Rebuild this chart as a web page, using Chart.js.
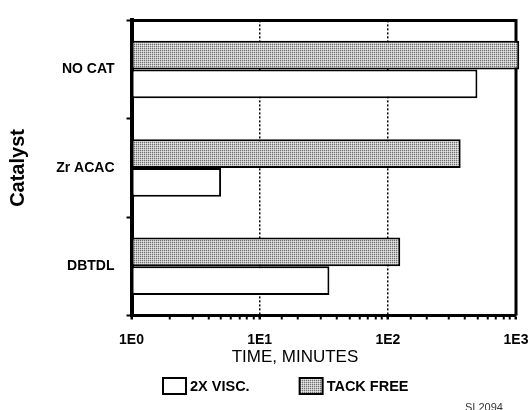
<!DOCTYPE html>
<html>
<head>
<meta charset="utf-8">
<script src="https://cdn.jsdelivr.net/npm/chart.js@4/dist/chart.umd.min.js"></script>
<style>
  html, body { margin: 0; padding: 0; background: #fff; }
  #wrap { width: 529px; height: 410px; }
</style>
</head>
<body>
<div id="wrap"><canvas id="chart" width="529" height="410" style="width:529px;height:410px"></canvas></div>
<script>
// Catalysts compared
const categories = ['NO CAT', 'Zr ACAC', 'DBTDL'];
// Cure times in minutes
const tackFree = [1060, 370, 125];
const twoXVisc = [500, 5, 35];
// Series names
const seriesNames = ['TACK FREE', '2X VISC.'];
// Labelled decades on the time axis
const decadeLabels = ['1E0', '1E1', '1E2', '1E3'];

const FONT = "'Liberation Sans', Arial, Helvetica, sans-serif";

// fine stipple used for the tack-free bars
function stipple() {
  const c = document.createElement('canvas');
  c.width = 2; c.height = 2;
  const g = c.getContext('2d');
  g.fillStyle = '#c4c4c4'; g.fillRect(0, 0, 2, 2);
  g.fillStyle = '#6e6e6e'; g.fillRect(0, 0, 1, 1);
  g.fillStyle = '#e6e6e6'; g.fillRect(1, 1, 1, 1);
  return g.createPattern(c, 'repeat');
}
const dotted = stipple();

const isDecade = v => Math.abs(Math.log10(v) - Math.round(Math.log10(v))) < 1e-9;

const framePlugin = {
  id: 'frame',
  beforeDatasetsDraw(chart) {
    const {ctx, chartArea: a} = chart;
    ctx.save();
    ctx.strokeStyle = '#000';
    ctx.lineWidth = 3;
    ctx.beginPath();
    ctx.moveTo(a.left, a.top);
    ctx.lineTo(a.right, a.top);
    ctx.moveTo(a.right, a.top - 1.5);
    ctx.lineTo(a.right, a.bottom);
    ctx.stroke();
    ctx.restore();
  },
  afterDraw(chart) {
    const {ctx} = chart;
    ctx.save();
    // axis title
    ctx.fillStyle = '#000';
    ctx.font = `17px ${FONT}`;
    ctx.textAlign = 'center';
    ctx.textBaseline = 'middle';
    ctx.fillText('TIME, MINUTES', 295, 357.5);

    // legend, visc first
    ctx.font = `bold 14.5px ${FONT}`;
    ctx.textAlign = 'left';
    let x = 163;
    const y = 378, bw = 23, bh = 16;
    [1, 0].forEach(i => {
      const ds = chart.data.datasets[i];
      ctx.fillStyle = ds.backgroundColor;
      ctx.fillRect(x, y, bw, bh);
      ctx.lineWidth = 2;
      ctx.strokeStyle = ds.borderColor;
      ctx.strokeRect(x, y, bw, bh);
      ctx.fillStyle = '#000';
      const tx = x + bw + 4;
      ctx.fillText(ds.label, tx, y + bh / 2 + 0.5);
      x = tx + ctx.measureText(ds.label).width + 50;
    });

    // drawing reference
    ctx.font = `11px ${FONT}`;
    ctx.fillStyle = '#333';
    ctx.textBaseline = 'alphabetic';
    ctx.fillText('SI 2094', 465, 411);
    ctx.restore();
  }
};

new Chart(document.getElementById('chart'), {
  type: 'bar',
  data: {
    labels: categories,
    datasets: [
      {
        label: seriesNames[0],
        data: tackFree,
        backgroundColor: dotted,
        borderColor: '#000',
        borderWidth: 2,
        borderSkipped: false,
        clip: false
      },
      {
        label: seriesNames[1],
        data: twoXVisc,
        backgroundColor: '#fff',
        borderColor: '#000',
        borderWidth: 2,
        borderSkipped: false,
        clip: false
      }
    ]
  },
  options: {
    indexAxis: 'y',
    responsive: false,
    animation: false,
    devicePixelRatio: 1,
    categoryPercentage: 0.584,
    barPercentage: 1,
    layout: { padding: { left: 0, right: 0, top: 19, bottom: 0 } },
    plugins: {
      legend: { display: false },
      tooltip: { enabled: false }
    },
    scales: {
      x: {
        type: 'logarithmic',
        min: 1,
        max: 1000,
        afterFit(scale) {
          scale.height = 94.5;
          scale.paddingLeft = 0;
          scale.paddingRight = 13;
        },
        border: { display: true, color: '#000', width: 3, dash: [2, 2] },
        grid: {
          drawOnChartArea: true,
          drawTicks: true,
          tickLength: 4,
          color: c => (c.tick && (c.tick.value === 10 || c.tick.value === 100)) ? '#000' : 'rgba(0,0,0,0)',
          lineWidth: 1.5,
          tickColor: '#000',
          tickWidth: c => (c.tick && isDecade(c.tick.value)) ? 2.5 : 2
        },
        ticks: {
          autoSkip: false,
          maxRotation: 0,
          padding: 12,
          color: '#000',
          font: { family: FONT, size: 14, weight: 'bold' },
          callback: v => isDecade(v) ? decadeLabels[Math.round(Math.log10(v))] : ''
        }
      },
      y: {
        afterFit(scale) { scale.width = 131.5; },
        border: { display: true, color: '#000', width: 4 },
        grid: {
          offset: true,
          drawOnChartArea: false,
          drawTicks: true,
          tickLength: 5,
          tickColor: '#000',
          tickWidth: 2
        },
        ticks: {
          padding: 12,
          color: '#000',
          font: { family: FONT, size: 14, weight: 'bold' }
        },
        title: {
          display: true,
          text: 'Catalyst',
          color: '#000',
          padding: { top: 6, bottom: 0 },
          font: { family: FONT, size: 20, weight: 'bold' }
        }
      }
    }
  },
  plugins: [framePlugin]
});
</script>
</body>
</html>
